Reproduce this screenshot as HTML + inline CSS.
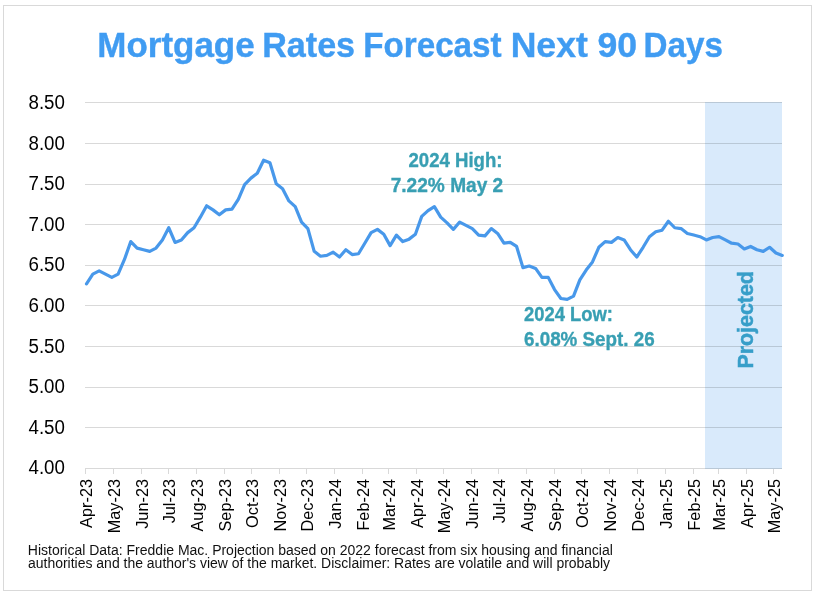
<!DOCTYPE html>
<html><head><meta charset="utf-8"><style>
html,body{margin:0;padding:0;background:#fff;}
body{width:816px;height:595px;overflow:hidden;position:relative;}
svg{position:absolute;left:0;top:0;will-change:transform;}
text{font-family:"Liberation Sans",sans-serif;}
</style></head><body>
<svg width="816" height="595" viewBox="0 0 816 595">
<rect x="3.5" y="5.5" width="808" height="585" fill="#fff" stroke="#d9d9d9" stroke-width="1"/>
<g font-size="35" font-weight="bold" fill="#409cf2" stroke="#409cf2" stroke-width="0.4"><text x="97.33" y="57" textLength="157.28" lengthAdjust="spacingAndGlyphs">Mortgage</text><text x="262.18" y="57" textLength="92.89" lengthAdjust="spacingAndGlyphs">Rates</text><text x="363.21" y="57" textLength="138.36" lengthAdjust="spacingAndGlyphs">Forecast</text><text x="510.69" y="57" textLength="77.11" lengthAdjust="spacingAndGlyphs">Next</text><text x="597.49" y="57" textLength="39.57" lengthAdjust="spacingAndGlyphs">90</text><text x="643.58" y="57" textLength="79.37" lengthAdjust="spacingAndGlyphs">Days</text></g>
<rect x="705" y="102" width="77" height="366" fill="#d9eafb"/>
<g stroke="#d9d9d9" stroke-width="1" shape-rendering="crispEdges"><line x1="85" y1="102.5" x2="705" y2="102.5"/><line x1="85" y1="143.5" x2="705" y2="143.5"/><line x1="85" y1="184.5" x2="705" y2="184.5"/><line x1="85" y1="224.5" x2="705" y2="224.5"/><line x1="85" y1="265.5" x2="705" y2="265.5"/><line x1="85" y1="305.5" x2="705" y2="305.5"/><line x1="85" y1="346.5" x2="705" y2="346.5"/><line x1="85" y1="387.5" x2="705" y2="387.5"/><line x1="85" y1="427.5" x2="705" y2="427.5"/><line x1="85" y1="468.5" x2="705" y2="468.5"/><line x1="85.5" y1="468" x2="85.5" y2="474"/><line x1="113.5" y1="468" x2="113.5" y2="474"/><line x1="141.5" y1="468" x2="141.5" y2="474"/><line x1="168.5" y1="468" x2="168.5" y2="474"/><line x1="196.5" y1="468" x2="196.5" y2="474"/><line x1="224.5" y1="468" x2="224.5" y2="474"/><line x1="251.5" y1="468" x2="251.5" y2="474"/><line x1="279.5" y1="468" x2="279.5" y2="474"/><line x1="306.5" y1="468" x2="306.5" y2="474"/><line x1="334.5" y1="468" x2="334.5" y2="474"/><line x1="362.5" y1="468" x2="362.5" y2="474"/><line x1="388.5" y1="468" x2="388.5" y2="474"/><line x1="416.5" y1="468" x2="416.5" y2="474"/><line x1="443.5" y1="468" x2="443.5" y2="474"/><line x1="471.5" y1="468" x2="471.5" y2="474"/><line x1="498.5" y1="468" x2="498.5" y2="474"/><line x1="526.5" y1="468" x2="526.5" y2="474"/><line x1="554.5" y1="468" x2="554.5" y2="474"/><line x1="581.5" y1="468" x2="581.5" y2="474"/><line x1="609.5" y1="468" x2="609.5" y2="474"/><line x1="637.5" y1="468" x2="637.5" y2="474"/><line x1="665.5" y1="468" x2="665.5" y2="474"/><line x1="693.5" y1="468" x2="693.5" y2="474"/><line x1="718.5" y1="468" x2="718.5" y2="474"/><line x1="746.5" y1="468" x2="746.5" y2="474"/><line x1="773.5" y1="468" x2="773.5" y2="474"/></g>
<g stroke="#b9c8d6" stroke-width="1" shape-rendering="crispEdges"><line x1="705" y1="102.5" x2="782" y2="102.5"/><line x1="705" y1="143.5" x2="782" y2="143.5"/><line x1="705" y1="184.5" x2="782" y2="184.5"/><line x1="705" y1="224.5" x2="782" y2="224.5"/><line x1="705" y1="265.5" x2="782" y2="265.5"/><line x1="705" y1="305.5" x2="782" y2="305.5"/><line x1="705" y1="346.5" x2="782" y2="346.5"/><line x1="705" y1="387.5" x2="782" y2="387.5"/><line x1="705" y1="427.5" x2="782" y2="427.5"/><line x1="705" y1="468.5" x2="782" y2="468.5"/></g>
<g font-size="20" fill="#000" text-anchor="end"><text x="64.9" y="109.20" textLength="36.4" lengthAdjust="spacingAndGlyphs">8.50</text><text x="64.9" y="149.76" textLength="36.4" lengthAdjust="spacingAndGlyphs">8.00</text><text x="64.9" y="190.31" textLength="36.4" lengthAdjust="spacingAndGlyphs">7.50</text><text x="64.9" y="230.87" textLength="36.4" lengthAdjust="spacingAndGlyphs">7.00</text><text x="64.9" y="271.42" textLength="36.4" lengthAdjust="spacingAndGlyphs">6.50</text><text x="64.9" y="311.98" textLength="36.4" lengthAdjust="spacingAndGlyphs">6.00</text><text x="64.9" y="352.53" textLength="36.4" lengthAdjust="spacingAndGlyphs">5.50</text><text x="64.9" y="393.09" textLength="36.4" lengthAdjust="spacingAndGlyphs">5.00</text><text x="64.9" y="433.64" textLength="36.4" lengthAdjust="spacingAndGlyphs">4.50</text><text x="64.9" y="474.20" textLength="36.4" lengthAdjust="spacingAndGlyphs">4.00</text></g>
<g font-size="16.3" fill="#000" text-anchor="end"><text transform="translate(91.60,479.0) rotate(-90)">Apr-23</text><text transform="translate(119.60,479.0) rotate(-90)">May-23</text><text transform="translate(147.60,479.0) rotate(-90)">Jun-23</text><text transform="translate(174.60,479.0) rotate(-90)">Jul-23</text><text transform="translate(202.60,479.0) rotate(-90)">Aug-23</text><text transform="translate(230.60,479.0) rotate(-90)">Sep-23</text><text transform="translate(257.60,479.0) rotate(-90)">Oct-23</text><text transform="translate(285.60,479.0) rotate(-90)">Nov-23</text><text transform="translate(312.60,479.0) rotate(-90)">Dec-23</text><text transform="translate(340.60,479.0) rotate(-90)">Jan-24</text><text transform="translate(368.60,479.0) rotate(-90)">Feb-24</text><text transform="translate(394.60,479.0) rotate(-90)">Mar-24</text><text transform="translate(422.60,479.0) rotate(-90)">Apr-24</text><text transform="translate(449.60,479.0) rotate(-90)">May-24</text><text transform="translate(477.60,479.0) rotate(-90)">Jun-24</text><text transform="translate(504.60,479.0) rotate(-90)">Jul-24</text><text transform="translate(532.60,479.0) rotate(-90)">Aug-24</text><text transform="translate(560.60,479.0) rotate(-90)">Sep-24</text><text transform="translate(587.60,479.0) rotate(-90)">Oct-24</text><text transform="translate(615.60,479.0) rotate(-90)">Nov-24</text><text transform="translate(643.60,479.0) rotate(-90)">Dec-24</text><text transform="translate(671.60,479.0) rotate(-90)">Jan-25</text><text transform="translate(699.60,479.0) rotate(-90)">Feb-25</text><text transform="translate(724.60,479.0) rotate(-90)">Mar-25</text><text transform="translate(752.60,479.0) rotate(-90)">Apr-25</text><text transform="translate(779.60,479.0) rotate(-90)">May-25</text></g>
<polyline points="86.50,283.87 92.83,274.11 99.15,270.86 105.47,274.11 111.80,277.37 118.12,274.11 124.45,259.47 130.78,241.58 137.10,248.09 143.43,249.71 149.75,251.34 156.07,248.09 162.40,239.95 168.73,227.75 175.05,242.39 181.38,239.95 187.70,232.63 194.03,227.75 200.35,217.18 206.68,205.79 213.00,209.86 219.33,214.74 225.65,209.86 231.97,209.05 238.30,199.29 244.62,184.65 250.95,178.14 257.27,173.26 263.60,160.25 269.93,162.69 276.25,183.83 282.58,188.71 288.90,200.91 295.23,206.61 301.55,222.06 307.88,228.57 314.20,251.34 320.52,256.22 326.85,255.41 333.18,252.15 339.50,257.03 345.82,249.71 352.15,254.59 358.48,253.78 364.80,243.21 371.12,232.63 377.45,229.38 383.78,234.26 390.10,245.65 396.43,235.07 402.75,241.58 409.07,239.14 415.40,234.26 421.73,216.37 428.05,210.67 434.38,206.61 440.70,217.18 447.03,222.87 453.35,229.38 459.68,222.06 466.00,225.31 472.32,228.57 478.65,235.07 484.98,235.89 491.30,228.57 497.62,233.45 503.95,243.21 510.28,242.39 516.60,246.46 522.92,267.61 529.25,265.98 535.58,268.42 541.90,277.37 548.23,277.37 554.55,289.57 560.88,298.51 567.20,299.33 573.53,296.07 579.85,279.81 586.17,270.05 592.50,261.91 598.83,247.27 605.15,241.58 611.48,242.39 617.80,237.51 624.12,239.95 630.45,249.71 636.77,257.03 643.10,247.27 649.43,236.70 655.75,231.82 662.08,230.19 668.40,221.25 674.73,227.75 681.05,228.57 687.38,233.45 693.70,235.07 700.02,236.70 706.35,239.95 712.68,237.51 719.00,236.70 725.33,239.95 731.65,243.21 737.98,244.02 744.30,248.90 750.62,246.46 756.95,249.71 763.27,251.34 769.60,247.27 775.93,252.97 782.25,255.41" fill="none" stroke="#4898ea" stroke-width="3.2" stroke-linejoin="round" stroke-linecap="round"/>
<g font-size="19.5" font-weight="bold" fill="#389fb3" stroke="#389fb3" stroke-width="0.35">
<text x="502.5" y="166.7" text-anchor="end" textLength="94" lengthAdjust="spacingAndGlyphs">2024 High:</text>
<text x="503.2" y="191.6" text-anchor="end" textLength="112.5" lengthAdjust="spacingAndGlyphs">7.22% May 2</text>
<text x="524" y="321" textLength="89" lengthAdjust="spacingAndGlyphs">2024 Low:</text>
<text x="524" y="346.2" textLength="130.7" lengthAdjust="spacingAndGlyphs">6.08% Sept. 26</text>
</g>
<text transform="translate(753.2,368.6) rotate(-90)" font-size="22" font-weight="bold" fill="#379ec9" stroke="#379ec9" stroke-width="0.5" textLength="97.5" lengthAdjust="spacingAndGlyphs">Projected</text>
<g font-size="14" fill="#111">
<text x="27.8" y="554.6" textLength="585" lengthAdjust="spacingAndGlyphs">Historical Data: Freddie Mac. Projection based on 2022 forecast from six housing and financial</text>
<text x="28" y="568" textLength="582" lengthAdjust="spacingAndGlyphs">authorities and the author's view of the market. Disclaimer: Rates are volatile and will probably</text>
</g>
</svg>
</body></html>
